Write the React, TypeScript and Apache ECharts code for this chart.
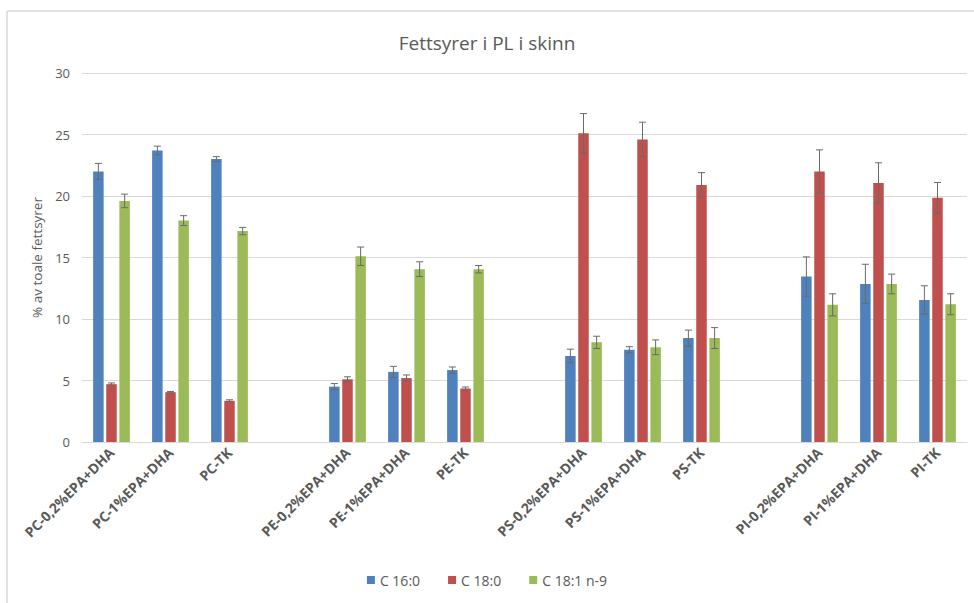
import React, { useEffect, useRef } from "react";
import * as echarts from "echarts";

const categories = [
  "PC-0,2%EPA+DHA", "PC-1%EPA+DHA", "PC-TK", " ",
  "PE-0,2%EPA+DHA", "PE-1%EPA+DHA", "PE-TK", "  ",
  "PS-0,2%EPA+DHA", "PS-1%EPA+DHA", "PS-TK", "   ",
  "PI-0,2%EPA+DHA", "PI-1%EPA+DHA", "PI-TK",
];

const seriesNames = ["C 16:0", "C 18:0", "C 18:1 n-9"];

const c160 = [22.0, 23.7, 23.0, null, 4.5, 5.7, 5.85, null, 7.0, 7.5, 8.45, null, 13.45, 12.85, 11.55];
const c160Err = [0.65, 0.35, 0.2, null, 0.25, 0.45, 0.25, null, 0.55, 0.25, 0.65, null, 1.6, 1.6, 1.15];

const c180 = [4.7, 4.05, 3.35, null, 5.1, 5.2, 4.35, null, 25.1, 24.6, 20.9, null, 22.0, 21.05, 19.85];
const c180Err = [0.1, 0.06, 0.08, null, 0.2, 0.25, 0.12, null, 1.6, 1.4, 1.0, null, 1.75, 1.65, 1.25];

const c181 = [19.6, 18.0, 17.15, null, 15.1, 14.05, 14.05, null, 8.1, 7.7, 8.45, null, 11.15, 12.85, 11.2];
const c181Err = [0.55, 0.4, 0.3, null, 0.75, 0.6, 0.3, null, 0.5, 0.6, 0.85, null, 0.9, 0.8, 0.85];

const colors = ["#4f81bd", "#c0504d", "#9bbb59"];

const BAR_W = 10.5;
const BAR_GAP = 0.25;
const STEP = BAR_W * (1 + BAR_GAP);

function errorSeries(vals: (number | null)[], errs: (number | null)[], idx: number) {
  const data: number[][] = [];
  vals.forEach((v, i) => {
    if (v != null && errs[i] != null) data.push([i, v, errs[i] as number]);
  });
  const offset = (idx - 1) * STEP;
  return {
    type: "custom",
    name: seriesNames[idx] + " err",
    z: 5,
    silent: true,
    data,
    encode: { x: 0, y: 1 },
    renderItem: (params: any, api: any) => {
      const i = api.value(0);
      const v = api.value(1);
      const e = api.value(2);
      const top = api.coord([i, v + e]);
      const bot = api.coord([i, v - e]);
      const x = top[0] + offset;
      const cap = 3.5;
      const style = { stroke: "#6a6a6a", lineWidth: 1 };
      return {
        type: "group",
        children: [
          { type: "line", shape: { x1: x, y1: top[1], x2: x, y2: bot[1] }, style },
          { type: "line", shape: { x1: x - cap, y1: top[1], x2: x + cap, y2: top[1] }, style },
          { type: "line", shape: { x1: x - cap, y1: bot[1], x2: x + cap, y2: bot[1] }, style },
        ],
      };
    },
  };
}

export default function App() {
  const ref = useRef<HTMLDivElement>(null);
  useEffect(() => {
    if (!ref.current) return;
    const chart = echarts.init(ref.current, null, { renderer: "svg" });
    const font = "'Open Sans', sans-serif";
    const barVals = [c160, c180, c181];
    const errVals = [c160Err, c180Err, c181Err];
    chart.setOption({
      animation: false,
      backgroundColor: "#ffffff",
      title: {
        text: "Fettsyrer i PL i skinn",
        left: "center",
        top: 28,
        textStyle: { fontFamily: font, fontSize: 19, fontWeight: "normal", color: "#595959" },
      },
      legend: {
        data: seriesNames,
        left: "center",
        top: 568,
        icon: "rect",
        itemWidth: 8,
        itemHeight: 8,
        itemGap: 28,
        textStyle: { fontFamily: font, fontSize: 14, color: "#595959" },
      },
      grid: { left: 82, right: 7, top: 73, bottom: 161, containLabel: false },
      xAxis: {
        type: "category",
        data: categories,
        axisLine: { lineStyle: { color: "#d9d9d9", width: 1 } },
        axisTick: { show: false },
        axisLabel: {
          interval: 0,
          rotate: 45,
          margin: 8,
          fontFamily: font,
          fontSize: 14,
          fontWeight: "bold",
          color: "#595959",
        },
      },
      yAxis: {
        type: "value",
        min: 0,
        max: 30,
        interval: 5,
        name: "% av toale fettsyrer",
        nameLocation: "middle",
        nameRotate: 90,
        nameGap: 34,
        nameTextStyle: { fontFamily: font, fontSize: 13.5, color: "#595959" },
        axisLine: { show: false },
        axisTick: { show: false },
        splitLine: { lineStyle: { color: "#d9d9d9", width: 1 } },
        axisLabel: { fontFamily: font, fontSize: 13, color: "#595959", margin: 12 },
      },
      graphic: [
        { type: "line", shape: { x1: 7, y1: 11, x2: 974, y2: 11 }, style: { stroke: "#d9d9d9", lineWidth: 1.5 } },
        { type: "line", shape: { x1: 7, y1: 11, x2: 7, y2: 603 }, style: { stroke: "#d9d9d9", lineWidth: 1.5 } },
      ],
      series: [
        ...barVals.map((vals, k) => ({
          type: "bar",
          name: seriesNames[k],
          data: vals.map((v) => (v == null ? "-" : v)),
          barWidth: BAR_W,
          barGap: BAR_GAP * 100 + "%",
          itemStyle: { color: colors[k] },
        })),
        ...errVals.map((errs, k) => errorSeries(barVals[k], errs, k)),
      ],
    });
    return () => chart.dispose();
  }, []);
  return (
    <div
      ref={ref}
      style={{ position: "fixed", left: 0, top: 0, width: 974, height: 603, background: "#fff" }}
    />
  );
}
